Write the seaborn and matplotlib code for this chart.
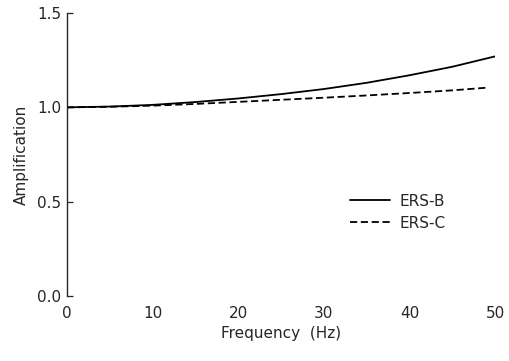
import pandas as pd
import numpy as np
import matplotlib
matplotlib.use("Agg")
import matplotlib.pyplot as plt
import seaborn as sns

# ============================================================
# Data
# ============================================================
freq_b = [0, 5, 10, 15, 20, 25, 30, 35, 40, 45, 50]
amp_b = [1.0, 1.004, 1.013, 1.028, 1.047, 1.07, 1.097, 1.13, 1.17, 1.215, 1.27]
freq_c = [0, 5, 10, 15, 20, 25, 30, 35, 40, 45, 49]
amp_c = [1.0, 1.003, 1.009, 1.018, 1.029, 1.04, 1.051, 1.063, 1.076, 1.09, 1.104]
series_names = ["ERS-B", "ERS-C"]
x_ticks = [0, 10, 20, 30, 40, 50]
y_ticks = [0.0, 0.5, 1.0, 1.5]

df = pd.concat([
    pd.DataFrame({"freq": freq_b, "amp": amp_b, "series": series_names[0]}),
    pd.DataFrame({"freq": freq_c, "amp": amp_c, "series": series_names[1]}),
])

# ============================================================
# Plot
# ============================================================
sns.set_style("ticks")
plt.rcParams['font.family'] = ['DejaVu Sans']
plt.rcParams['ytick.direction'] = 'in'

fig = plt.figure(figsize=(5.09, 3.61), dpi=100)
ax = fig.add_axes([0.1316, 0.180, 0.841, 0.784])

sns.lineplot(data=df, x="freq", y="amp", style="series", color="black",
             dashes={"ERS-B": "", "ERS-C": (4, 2)}, linewidth=1.3, ax=ax)

ax.set_xlim(0, 50)
ax.set_ylim(0, 1.5)
ax.set_xticks(x_ticks)
ax.set_xticklabels([str(t) for t in x_ticks])
ax.set_yticks(y_ticks)
ax.set_yticklabels([f"{t:.1f}" for t in y_ticks])
ax.tick_params(axis="x", length=0, pad=7, labelsize=11)
ax.tick_params(axis="y", direction="in", length=4, width=0.9, pad=4, labelsize=11)

for side in ["top", "right", "bottom"]:
    ax.spines[side].set_visible(False)
ax.spines["left"].set_linewidth(1.0)

ax.set_xlabel("Frequency  (Hz)", fontsize=11, labelpad=4)
ax.set_ylabel("Amplification", fontsize=11, labelpad=6)

leg = ax.legend(loc="upper left", bbox_to_anchor=(0.63, 0.41), frameon=False,
                fontsize=11, handlelength=2.6, handletextpad=0.6,
                labelspacing=0.45, title=None)

fig.savefig("out.png", dpi=100)
